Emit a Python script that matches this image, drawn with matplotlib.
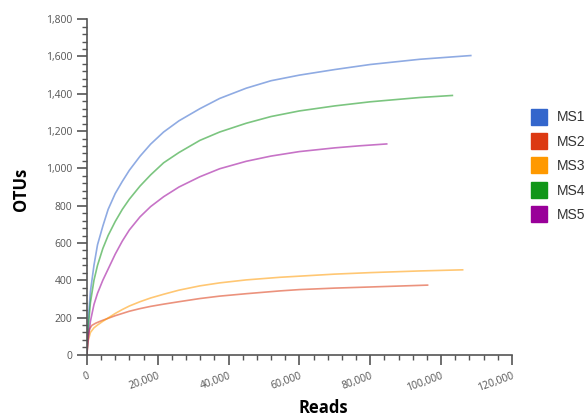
import matplotlib
import matplotlib.pyplot as plt
from matplotlib.lines import Line2D
from matplotlib.ticker import FuncFormatter, MultipleLocator

matplotlib.use("Agg")

# rarefaction curves (reads, OTUs)
ms1_reads = [0, 400, 1000, 2000, 3000, 4500, 6000, 8000, 10000, 12000, 15000, 18000, 21670,
             26000, 31900, 37500, 45000, 52000, 60000, 70000, 80000, 94000, 108400]
ms1_otus = [0, 190, 340, 480, 590, 690, 780, 865, 930, 990, 1065, 1130, 1195,
            1255, 1320, 1375, 1430, 1470, 1500, 1530, 1557, 1585, 1605]

ms2_reads = [0, 300, 800, 1400, 2500, 4000, 6000, 8000, 10000, 12000, 15000, 18000, 21670,
             26000, 31900, 37500, 45000, 54520, 60000, 70000, 80000, 96200]
ms2_otus = [0, 100, 140, 158, 170, 182, 196, 210, 222, 234, 248, 260, 272,
            285, 302, 315, 328, 343, 350, 358, 364, 374]

ms3_reads = [0, 300, 1000, 2000, 3000, 4500, 6000, 8000, 10000, 12000, 15000, 18000, 21670,
             26000, 31900, 37500, 45000, 54520, 60000, 70000, 80000, 94000, 106100]
ms3_otus = [0, 70, 120, 145, 160, 180, 198, 222, 243, 262, 285, 305, 325,
            347, 370, 386, 402, 416, 422, 433, 441, 450, 456]

ms4_reads = [0, 400, 1000, 2000, 3000, 4500, 6000, 8000, 10000, 12000, 15000, 18000, 21670,
             26000, 31900, 37500, 45000, 52000, 60000, 70000, 80000, 94000, 103200]
ms4_otus = [0, 150, 280, 400, 480, 570, 640, 715, 780, 835, 905, 965, 1030,
            1085, 1150, 1195, 1242, 1278, 1308, 1335, 1357, 1380, 1391]

ms5_reads = [0, 400, 1000, 2000, 3000, 4500, 6000, 8000, 10000, 12000, 15000, 18000, 21670,
             26000, 31900, 37500, 45000, 52000, 60000, 70000, 77000, 84660]
ms5_otus = [0, 90, 180, 270, 330, 400, 460, 540, 610, 670, 740, 795, 848,
            900, 955, 998, 1038, 1066, 1090, 1110, 1121, 1131]

series_names = ["MS1", "MS2", "MS3", "MS4", "MS5"]
series_colors = ["#3366cc", "#dc3912", "#ff9900", "#109618", "#990099"]


def thousands(v, _pos):
    return f"{int(v):,}"


def main():
    fig = plt.figure(figsize=(5.87, 4.17), dpi=100)
    ax = fig.add_axes([0.148, 0.149, 0.724, 0.805])

    data = [
        (ms1_reads, ms1_otus),
        (ms2_reads, ms2_otus),
        (ms3_reads, ms3_otus),
        (ms4_reads, ms4_otus),
        (ms5_reads, ms5_otus),
    ]
    for (xs, ys), color in zip(data, series_colors):
        ax.plot(xs, ys, color=color, alpha=0.55, lw=1.2, solid_joinstyle="round")

    ax.set_xlim(0, 120000)
    ax.set_ylim(0, 1800)
    ax.xaxis.set_major_locator(MultipleLocator(20000))
    ax.xaxis.set_minor_locator(MultipleLocator(4000))
    ax.yaxis.set_major_locator(MultipleLocator(200))
    ax.yaxis.set_minor_locator(MultipleLocator(40))
    ax.xaxis.set_major_formatter(FuncFormatter(thousands))
    ax.yaxis.set_major_formatter(FuncFormatter(thousands))

    for side in ("top", "right"):
        ax.spines[side].set_visible(False)
    for side in ("left", "bottom"):
        ax.spines[side].set_color("#555555")
        ax.spines[side].set_linewidth(1.2)

    ax.tick_params(which="major", length=7, width=1.2, color="#555555",
                   labelcolor="#555555", labelsize=7.5)
    ax.tick_params(which="minor", length=3.5, width=1.0, color="#555555")
    ax.tick_params(axis="x", which="major", pad=4)
    for lbl in ax.get_xticklabels():
        lbl.set_rotation(20)
        lbl.set_ha("right")
        lbl.set_rotation_mode("anchor")
        lbl.set_family("Open Sans")
    for lbl in ax.get_yticklabels():
        lbl.set_family("Open Sans")

    fig.text(0.55, 0.022, "Reads", ha="center", va="center",
             fontsize=12, fontweight="bold", family="Open Sans")
    fig.text(0.035, 0.545, "OTUs", ha="center", va="center", rotation=90,
             fontsize=12, fontweight="bold", family="Open Sans")

    handles = [Line2D([], [], ls="none", marker="s", markersize=11,
                      markerfacecolor=c, markeredgecolor=c) for c in series_colors]
    fig.legend(handles, series_names, loc="upper left",
               bbox_to_anchor=(0.885, 0.765), frameon=False,
               prop={"family": "Liberation Sans", "size": 10},
               handlelength=1.0, handletextpad=0.8, labelspacing=0.75,
               labelcolor="#333333")

    fig.savefig("out.png", dpi=100)


if __name__ == "__main__":
    main()
